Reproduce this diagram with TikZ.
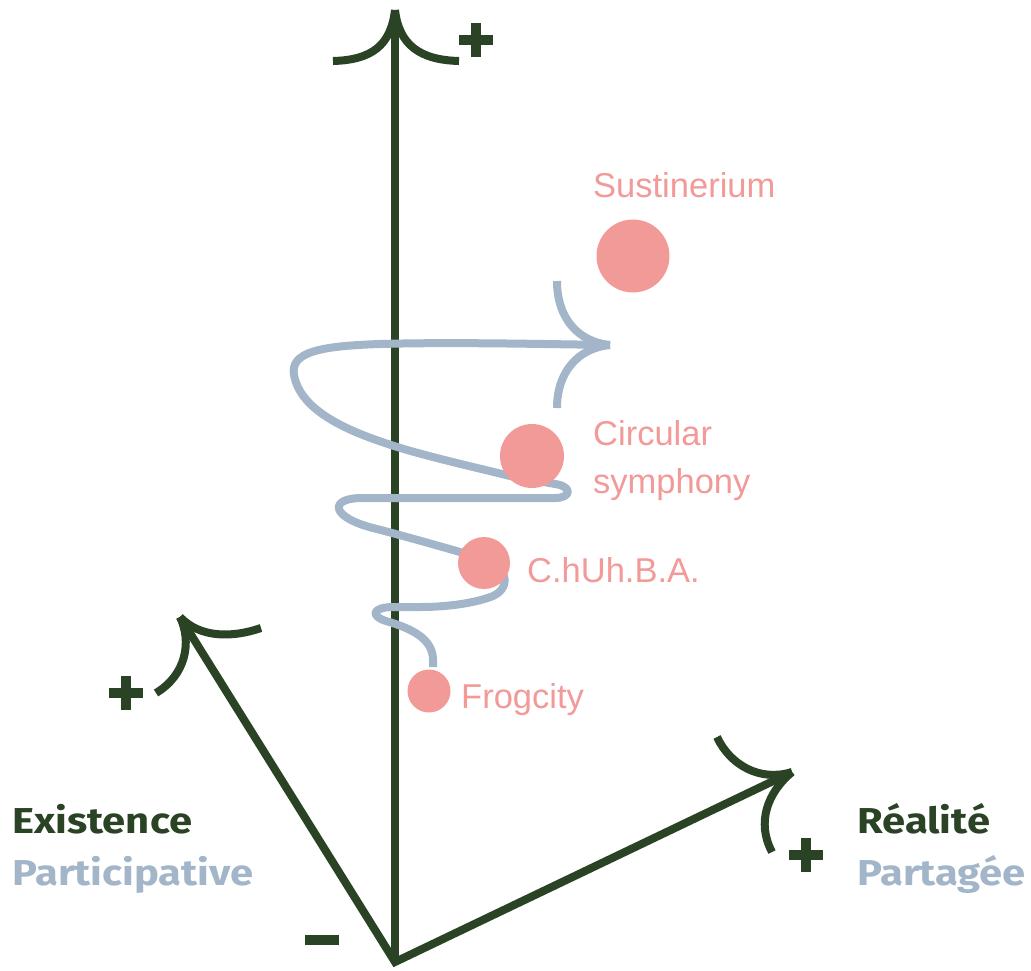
\documentclass[tikz,border=0pt]{standalone}
\usepackage{fontspec}
\usepackage{graphicx}
\newfontfamily\labfont{Liberation Sans}
\newfontfamily\axfont{Fira Sans}
\definecolor{axgreen}{HTML}{2A4324}
\definecolor{spblue}{HTML}{A2B5C9}
\definecolor{dotpink}{HTML}{F29A98}
\newcommand{\wideax}[1]{\scalebox{1.16}[1]{#1}}
\begin{document}
\begin{tikzpicture}[x=1pt,y=-1pt,
  axis/.style={draw=axgreen,line width=8pt},
  barb/.style={draw=axgreen,line width=8pt,line cap=butt},
  signs/.style={draw=axgreen,line width=9.5pt,line cap=butt},
  spiral/.style={draw=spblue,line width=8pt,line cap=butt,line join=round},
  dot/.style={circle,fill=dotpink,inner sep=0pt,minimum size=#1},
  lab/.style={text=dotpink,font=\labfont\fontsize{34.5}{48}\selectfont,inner sep=0pt,align=left},
  axlab/.style={font=\axfont\bfseries\fontsize{36}{41}\selectfont,inner sep=0pt,anchor=base west}]
\useasboundingbox (0,0) rectangle (1031,970);
% axes
\coordinate (O) at (395,962);
\coordinate (T) at (395,10);
\coordinate (L) at (180,617);
\coordinate (R) at (792,772);
\draw[axis] (O) -- (T);
\draw[axis,line join=miter] (L) -- (O) -- (R);
% arrow barbs
\coordinate (T1) at (333,61);
\coordinate (T2) at (459,61);
\draw[barb] (T) .. controls (391,45) and (372,60) .. (T1);
\draw[barb] (T) .. controls (399,45) and (420,60) .. (T2);
\coordinate (L1) at (261,628);
\coordinate (L2) at (156,693);
\draw[barb] (L) .. controls (200,638) and (232,638) .. (L1);
\draw[barb] (L) .. controls (192,642) and (186,675) .. (L2);
\coordinate (R1) at (717,737);
\coordinate (R2) at (772,852);
\draw[barb] (R) .. controls (760,782) and (730,765) .. (R1);
\draw[barb] (R) .. controls (768,792) and (756,822) .. (R2);
% plus and minus signs
\coordinate (PT) at (476,40);
\coordinate (PL) at (126,693);
\coordinate (PR) at (806,855);
\coordinate (MN) at (322,940);
\foreach \p in {PT,PL,PR}{
  \draw[signs] ([xshift=-17pt]\p) -- ([xshift=17pt]\p);
  \draw[signs] ([yshift=-17pt]\p) -- ([yshift=17pt]\p);
}
\draw[signs] ([xshift=-17pt]MN) -- ([xshift=17pt]MN);
% spiral
\coordinate (S0) at (433,667);
\coordinate (SA) at (610,345);
\draw[spiral] (S0) -- (433,660) .. controls (433,638) and (410,628) .. (386,621)
  .. controls (370,616) and (372,607) .. (394,607)
  -- (420,607) .. controls (452,607) and (478,602) .. (493,596)
  .. controls (506,590) and (508,578) .. (500,570)
  .. controls (490,560) and (475,556) .. (460,552)
  .. controls (425,542) and (400,535) .. (377,529)
  .. controls (330,518) and (328,498) .. (362,498)
  -- (555,498) .. controls (572,498) and (572,486) .. (555,484)
  -- (510,476)
  .. controls (470,466) and (420,455) .. (385,443)
  .. controls (340,428) and (300,408) .. (294,375)
  .. controls (290,352) and (320,346) .. (380,344)
  .. controls (450,342) and (540,344) .. (SA);
\coordinate (SA1) at (557,281);
\coordinate (SA2) at (557,408);
\draw[spiral] (SA) .. controls (578,342) and (557,318) .. (SA1);
\draw[spiral] (SA) .. controls (578,348) and (557,372) .. (SA2);
% dots
\node[dot=73pt] (sus) at (633,256) {};
\node[dot=64pt] (cir) at (532,456) {};
\node[dot=52pt] (chu) at (484,563) {};
\node[dot=43pt] (fro) at (429,691) {};
% labels
\node[lab,anchor=base west] (tsus) at (593,197) {Sustinerium};
\node[lab,anchor=west] (tcir) at (593,461) {Circular\\symphony};
\node[lab,anchor=base west] (tchu) at (527,582) {C.hUh.B.A.};
\node[lab,anchor=base west] (tfro) at (461,708) {Frogcity};
\node[axlab,text=axgreen] (e1) at (12,833) {\wideax{Existence}};
\node[axlab,text=spblue] (e2) at (12,885) {\wideax{Participative}};
\node[axlab,text=axgreen] (r1) at (857,833) {\wideax{Réalité}};
\node[axlab,text=spblue] (r2) at (857,885) {\wideax{Partagée}};
\end{tikzpicture}
\end{document}
